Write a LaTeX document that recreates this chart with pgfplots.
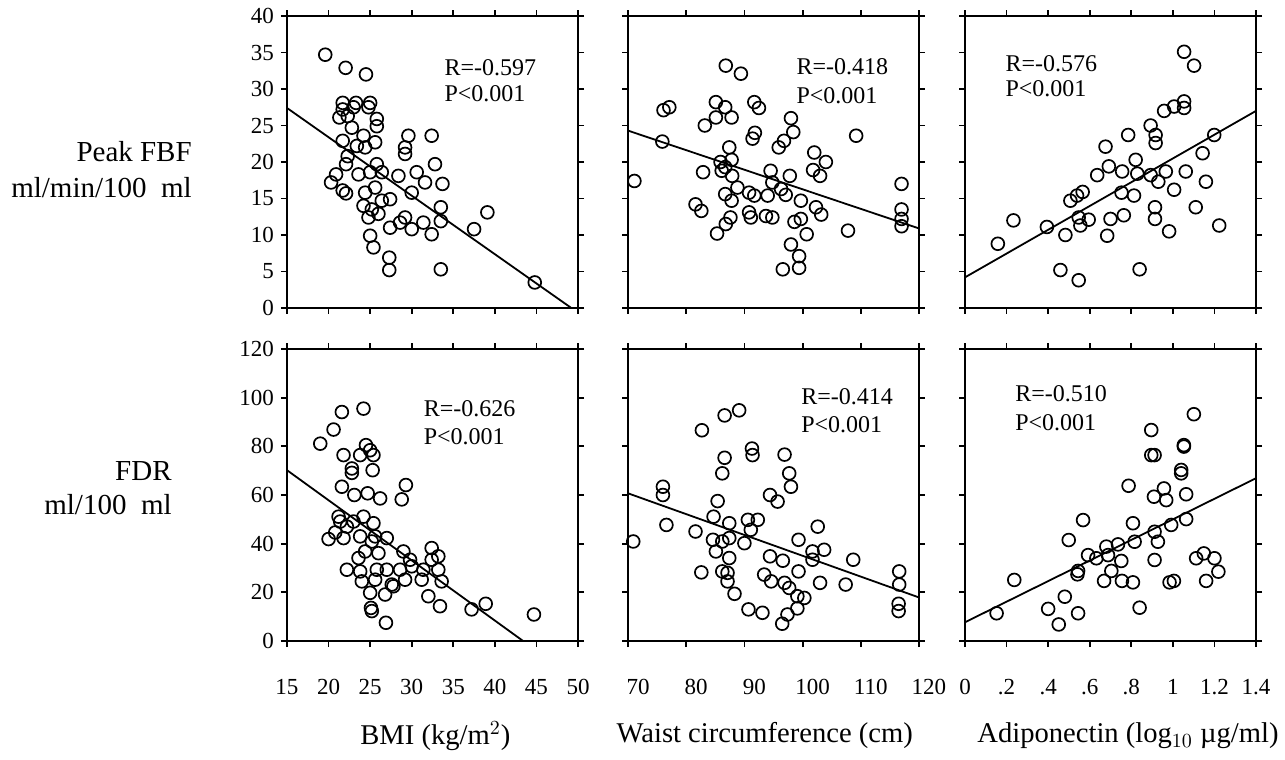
\documentclass[border=0pt]{standalone}
\usepackage{fontspec}
\setmainfont{Liberation Serif}
\usepackage{pgfplots}
\pgfplotsset{compat=1.18}

\pgfplotsset{
  panel/.style={
    scale only axis, width=145.5pt, height=146pt,
    anchor=north west,
    axis line style={line width=1.2pt},
    tick style={line width=0.9pt, black},
    tick align=outside, major tick length=3pt,
    /pgf/number format/assume math mode=true,
    ticklabel style={font=\fontsize{11.5}{13}\selectfont},
    xticklabel style={yshift=-12pt, text height=8pt, text depth=0pt},
    xlabel style={at={(axis description cs:0.5,-0.325)}, anchor=center, font=\fontsize{14.3}{16}\selectfont},
    clip=false,
  },
  toprow/.style={ymin=0, ymax=40, ytick={0,5,...,40}, xticklabels={}},
  botrow/.style={ymin=0, ymax=120, ytick={0,20,...,120}},
  col1/.style={xmin=15, xmax=50, xtick={15,20,...,50}},
  col2/.style={xmin=70, xmax=120, xtick={70,80,...,120}},
  col3/.style={xmin=0, xmax=1.4, xtick={0,0.2,0.4,0.6,0.8,1,1.2,1.4}},
  noy/.style={yticklabels={}},
  dots/.style={only marks, mark=o, mark size=3.2pt, mark options={line width=0.85pt}, black},
  fit/.style={black, line width=0.9pt, no marks},
}
\tikzset{
  rtext/.style={anchor=west, inner sep=0pt, font=\fontsize{12}{13}\selectfont},
  rowlab/.style={anchor=east, align=right, inner sep=0pt},
}

\begin{document}
\begin{tikzpicture}
\useasboundingbox (0,0) rectangle (642.5pt,-380pt);

% ---- top row: Peak FBF ----
\begin{axis}[panel, toprow, col1, at={(143.5pt,-8pt)}]
  \addplot[dots] coordinates {
    (19.6,34.7)(22.05,32.9)(24.5,32.0)(21.7,28.1)(23.3,28.1)(25.0,28.1)(21.7,27.2)(23.0,27.5)
    (24.8,27.5)(21.3,26.1)(22.3,26.3)(25.8,25.9)(25.8,24.9)(22.8,24.7)(29.6,23.6)(32.4,23.6)
    (29.2,22.0)(29.2,21.1)(21.7,22.9)(24.2,23.6)(25.6,22.7)(23.4,22.2)(24.4,22.0)(22.3,20.8)
    (32.8,19.7)(22.1,19.7)(25.8,19.7)(25.0,18.6)(20.9,18.3)(20.3,17.2)(23.6,18.3)(26.4,18.6)
    (28.4,18.1)(30.6,18.6)(31.6,17.2)(33.7,17.0)(21.7,16.1)(22.1,15.7)(24.4,15.8)(25.6,16.5)
    (27.4,14.9)(26.4,14.7)(30.0,15.8)(24.2,14.0)(25.2,13.5)(26.0,12.9)(24.8,12.4)(33.5,13.8)
    (39.1,13.1)(29.2,12.4)(28.6,11.7)(31.4,11.7)(33.5,11.9)(27.4,11.0)(30.0,10.8)(32.4,10.1)
    (37.5,10.8)(25.0,9.9)(25.4,8.3)(27.3,6.9)(27.3,5.2)(33.5,5.3)(44.8,3.5)
  };
  \addplot[fit] coordinates {(15,27.4)(49.2,0)};
  \node[rtext] at (axis cs:33.9,32.9) {R=-0.597};
  \node[rtext] at (axis cs:33.9,29.3) {P<0.001};
  \node[rowlab, font=\fontsize{14.5}{18}\selectfont] at (axis description cs:-0.326,0.473) {Peak FBF\\ml/min/100\ \ ml};
\end{axis}

\begin{axis}[panel, toprow, col2, noy, at={(314pt,-8pt)}]
  \addplot[dots] coordinates {
    (71.1,17.4)(76.1,27.1)(77.1,27.5)(75.9,22.8)(86.8,33.2)(89.4,32.1)(85.1,28.2)(86.7,27.5)
    (85.1,26.1)(87.8,26.1)(83.2,25.0)(91.7,28.2)(92.5,27.4)(98.0,26.0)(98.4,24.1)(96.8,22.9)
    (95.9,22.0)(91.4,23.2)(91.8,24.0)(109.2,23.6)(87.4,22.0)(102.0,21.3)(104.0,20.0)(101.8,18.9)
    (103.0,18.1)(85.9,20.0)(87.8,20.3)(86.7,19.3)(86.1,18.8)(87.9,18.1)(82.9,18.6)(94.5,18.8)
    (97.8,18.1)(94.8,17.2)(88.8,16.5)(86.7,15.6)(90.8,15.8)(91.7,15.4)(87.8,14.7)(94.0,15.4)
    (96.3,16.3)(97.1,15.5)(99.7,14.7)(102.3,13.8)(103.2,12.8)(81.6,14.2)(82.6,13.3)(90.8,13.1)
    (91.1,12.4)(93.7,12.6)(94.8,12.4)(87.6,12.4)(86.8,11.5)(85.3,10.2)(98.6,11.8)(99.7,12.2)
    (100.7,10.1)(107.8,10.6)(98.0,8.7)(99.4,7.1)(99.4,5.5)(96.6,5.3)(117.0,17.0)(117.0,13.5)
    (117.0,12.2)(117.0,11.2)
  };
  \addplot[fit] coordinates {(70,24.3)(120,10.9)};
  \node[rtext] at (axis cs:98.9,33.0) {R=-0.418};
  \node[rtext] at (axis cs:98.9,29.1) {P<0.001};
\end{axis}

\begin{axis}[panel, toprow, col3, noy, at={(482.5pt,-8pt)}]
  \addplot[dots] coordinates {
    (1.054,35.1)(1.102,33.2)(1.054,28.3)(1.054,27.4)(1.006,27.6)(0.958,27.0)(0.893,25.0)(0.917,23.7)
    (0.917,22.6)(0.785,23.7)(1.199,23.7)(0.676,22.1)(1.143,21.2)(0.692,19.4)(0.756,18.7)(0.821,20.3)
    (0.829,18.4)(0.636,18.2)(0.893,18.2)(0.966,18.7)(1.062,18.7)(0.930,17.3)(1.006,16.2)(1.159,17.3)
    (0.753,15.8)(0.813,15.4)(0.507,14.7)(0.539,15.4)(0.566,15.9)(0.914,13.8)(1.110,13.8)(0.914,12.2)
    (0.233,12.0)(0.394,11.1)(0.547,12.4)(0.595,12.1)(0.700,12.2)(0.764,12.7)(0.483,10.0)(0.555,11.3)
    (0.684,9.9)(0.982,10.5)(1.223,11.3)(0.158,8.8)(0.459,5.2)(0.547,3.8)(0.840,5.3)
  };
  \addplot[fit] coordinates {(0,4.2)(1.4,27.0)};
  \node[rtext] at (axis cs:0.193,33.4) {R=-0.576};
  \node[rtext] at (axis cs:0.193,30.0) {P<0.001};
\end{axis}

% ---- bottom row: FDR ----
\begin{axis}[panel, botrow, col1, at={(143.5pt,-174.5pt)}, xlabel={BMI (kg/m$^2$)},
    xlabel style={at={(axis description cs:0.51,-0.325)}}]
  \addplot[dots] coordinates {
    (21.6,94.1)(24.2,95.5)(20.6,86.9)(19.0,81.1)(24.5,80.5)(25.0,78.4)(23.8,76.4)(25.4,76.4)
    (21.8,76.4)(22.8,70.9)(22.8,69.1)(25.3,70.2)(29.3,64.1)(28.8,58.2)(21.6,63.4)(23.1,60.0)
    (24.7,60.7)(26.2,58.6)(21.2,51.1)(21.4,49.1)(24.2,51.1)(25.4,48.4)(23.0,49.1)(22.2,47.0)
    (20.0,41.9)(21.8,42.3)(20.8,44.6)(23.8,43.0)(25.2,40.9)(27.0,42.3)(25.6,43.0)(24.4,36.8)
    (26.0,36.1)(23.6,34.1)(29.0,36.8)(29.8,33.4)(32.4,38.2)(33.2,34.8)(32.4,33.4)(22.2,29.3)
    (23.8,28.6)(25.8,29.3)(27.0,29.3)(28.6,29.3)(30.0,30.7)(31.4,29.3)(33.2,29.3)(24.0,24.5)
    (25.6,25.2)(27.6,23.2)(29.2,25.2)(31.2,25.2)(33.6,24.5)(25.0,19.8)(26.8,19.1)(32.0,18.4)
    (33.4,14.3)(37.2,13.0)(38.9,15.3)(25.1,13.6)(25.2,12.3)(26.9,7.5)(44.7,10.9)(27.8,22.5)
  };
  \addplot[fit] coordinates {(15,70.2)(43.4,0)};
  \node[rtext] at (axis cs:31.4,95.5) {R=-0.626};
  \node[rtext] at (axis cs:31.4,83.9) {P<0.001};
  \node[rowlab, font=\fontsize{14.5}{17}\selectfont] at (axis description cs:-0.395,0.524) {FDR\\ml/100\ \ ml};
\end{axis}

\begin{axis}[panel, botrow, col2, noy, at={(314pt,-174.5pt)}, xlabel={Waist circumference (cm)},
    xticklabel style={xshift=5pt},
    xlabel style={at={(axis description cs:0.47,-0.325)}}]
  \addplot[dots] coordinates {
    (70.9,40.9)(76.0,63.4)(76.0,60.0)(76.6,47.7)(81.6,45.0)(82.7,86.6)(86.6,92.7)(89.1,94.8)
    (91.3,79.1)(91.4,76.4)(86.6,75.3)(86.2,68.9)(96.9,76.6)(97.7,68.9)(98.0,63.4)(94.4,60.0)
    (95.7,57.3)(85.4,57.5)(84.7,51.1)(87.4,48.4)(90.6,49.8)(92.3,49.8)(91.1,45.7)(84.6,41.6)
    (86.2,40.9)(87.4,42.3)(90.0,40.2)(85.1,36.8)(87.4,34.1)(86.2,28.6)(87.1,28.0)(87.1,24.5)
    (82.6,28.2)(88.3,19.4)(94.4,34.8)(96.6,33.0)(99.3,41.6)(102.6,47.0)(101.7,36.8)(101.7,33.4)
    (103.7,37.5)(99.3,28.6)(93.4,27.3)(94.6,24.5)(96.9,23.9)(97.7,21.8)(99.1,18.4)(100.3,17.7)
    (99.1,13.4)(97.4,10.9)(96.5,7.1)(90.7,13.0)(93.1,11.6)(103.0,23.9)(107.4,23.2)(108.7,33.4)
    (116.6,28.6)(116.6,23.2)(116.5,15.3)(116.5,12.3)
  };
  \addplot[fit] coordinates {(70,60.7)(120,17.9)};
  \node[rtext] at (axis cs:99.7,100.2) {R=-0.414};
  \node[rtext] at (axis cs:99.7,88.9) {P<0.001};
\end{axis}

\begin{axis}[panel, botrow, col3, noy, at={(482.5pt,-174.5pt)},
    xticklabels={0,.2,.4,.6,.8,1,1.2,1.4},
    xlabel={Adiponectin (log$_{10}$ µg/ml)},
    xlabel style={at={(axis description cs:0.56,-0.325)}}]
  \addplot[dots] coordinates {
    (1.101,93.2)(0.896,86.7)(0.896,76.4)(0.912,76.4)(1.053,80.5)(1.053,79.9)(1.040,70.3)(1.040,68.9)
    (0.787,63.8)(0.957,62.7)(0.909,59.3)(0.968,57.9)(1.064,60.3)(0.568,49.7)(0.808,48.4)(0.992,47.7)
    (1.064,50.1)(0.499,41.5)(0.912,44.9)(0.928,40.8)(0.816,40.8)(0.680,38.8)(0.736,39.7)(0.592,35.3)
    (0.632,34.0)(0.688,35.3)(0.752,32.9)(0.912,33.3)(1.112,34.0)(1.149,36.0)(1.200,34.0)(1.219,28.5)
    (0.544,28.8)(0.541,27.4)(0.704,28.8)(0.669,24.7)(0.755,24.7)(0.808,24.1)(0.984,24.1)(1.005,24.7)
    (1.160,24.7)(0.237,25.1)(0.480,18.2)(0.400,13.2)(0.544,11.4)(0.451,6.8)(0.840,13.7)(0.152,11.4)
  };
  \addplot[fit] coordinates {(0,7.7)(1.4,66.9)};
  \node[rtext] at (axis cs:0.24,101.8) {R=-0.510};
  \node[rtext] at (axis cs:0.24,89.9) {P<0.001};
\end{axis}
\end{tikzpicture}
\end{document}
